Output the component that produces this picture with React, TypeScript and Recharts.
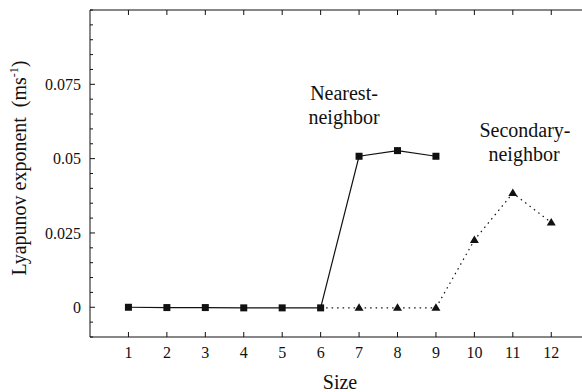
import React from 'react'
import { LineChart, Line, XAxis, YAxis, Customized } from 'recharts'

const sizes = [1, 2, 3, 4, 5, 6, 7, 8, 9, 10, 11, 12]
const nearest = [0, -0.0001, -0.0001, -0.0002, -0.0002, -0.0002, 0.0508, 0.0527, 0.0508, null, null, null]
const secondary = [null, null, null, null, null, -0.0002, -0.0002, -0.0002, -0.0002, 0.0226, 0.0384, 0.0285]

const yTicks = [
  -0.01, -0.005, 0, 0.005, 0.01, 0.015, 0.02, 0.025, 0.03, 0.035, 0.04, 0.045,
  0.05, 0.055, 0.06, 0.065, 0.07, 0.075, 0.08, 0.085, 0.09, 0.095, 0.1,
]
const yLabels: Record<string, string> = { '0': '0', '0.025': '0.025', '0.05': '0.05', '0.075': '0.075' }

const data = sizes.map((size, i) => ({ size, nearest: nearest[i], secondary: secondary[i] }))

const FONT = "'Liberation Serif'"
const INK = '#111'
const textStyle = { fontFamily: FONT }

const YTick = (props: any) => {
  const { x, y, payload } = props
  const label = yLabels[String(payload.value)]
  return (
    <g>
      <line x1={x} x2={x + (label ? 5 : 3)} y1={y} y2={y} stroke={INK} />
      {label && (
        <text x={x - 9} y={y} dy="0.35em" textAnchor="end" fontSize={16} style={textStyle} fill={INK}>
          {label}
        </text>
      )}
    </g>
  )
}

const XTick = (props: any) => {
  const { x, y, payload } = props
  return (
    <g>
      <line x1={x} x2={x} y1={y} y2={y - 5} stroke={INK} />
      <text x={x} y={y + 21} textAnchor="middle" fontSize={16} style={textStyle} fill={INK}>
        {payload.value}
      </text>
    </g>
  )
}

const TopTick = (props: any) => {
  const { x, y } = props
  return <line x1={x} x2={x} y1={y} y2={y + 5} stroke={INK} />
}

const Square = (props: any) => {
  const { cx, cy, index } = props
  if (cx == null || cy == null) return <g key={index} />
  return <rect key={index} x={cx - 3.5} y={cy - 3.5} width={7} height={7} fill={INK} />
}

const Triangle = (props: any) => {
  const { cx, cy, index, payload } = props
  if (cx == null || cy == null || payload.size === 6) return <g key={index} />
  return <path key={index} d={`M${cx},${cy - 4.5}L${cx + 4.5},${cy + 3}L${cx - 4.5},${cy + 3}Z`} fill={INK} />
}

const Texts = () => (
  <g fill={INK}>
    <text x={344} y={100} textAnchor="middle" fontSize={20} style={textStyle}>Nearest-</text>
    <text x={344} y={124} textAnchor="middle" fontSize={20} style={textStyle}>neighbor</text>
    <text x={525} y={137} textAnchor="middle" fontSize={20} style={textStyle}>Secondary-</text>
    <text x={524} y={161} textAnchor="middle" fontSize={20} style={textStyle}>neighbor</text>
    <text x={340} y={389} textAnchor="middle" fontSize={20} style={textStyle}>Size</text>
    <text transform="translate(26,168) rotate(-90)" textAnchor="middle" fontSize={20} style={textStyle}>
      Lyapunov exponent{'\u00A0'} (ms
      <tspan fontSize={12} dy={-8}>-1</tspan>
      <tspan dy={8}>)</tspan>
    </text>
  </g>
)

export default function App() {
  return (
    <div style={{ position: 'absolute', left: 0, top: 0, background: '#fff' }}>
      <LineChart width={582} height={392} data={data} margin={{ top: 9, right: 0, bottom: 0, left: 0 }}>
        <XAxis
          xAxisId="top"
          orientation="top"
          dataKey="size"
          type="number"
          domain={[0, 12.8]}
          ticks={sizes}
          interval={0}
          height={1}
          tickSize={0}
          tickMargin={0}
          tick={<TopTick />}
          stroke={INK}
          allowDataOverflow
        />
        <XAxis
          dataKey="size"
          type="number"
          domain={[0, 12.8]}
          ticks={sizes}
          interval={0}
          height={55}
          tickSize={0}
          tickMargin={0}
          tick={<XTick />}
          stroke={INK}
          allowDataOverflow
        />
        <YAxis
          type="number"
          domain={[-0.01, 0.1]}
          ticks={yTicks}
          interval={0}
          width={90}
          tickSize={0}
          tickMargin={0}
          tick={<YTick />}
          stroke={INK}
          allowDataOverflow
        />
        <Line
          dataKey="secondary"
          stroke={INK}
          strokeWidth={1.2}
          strokeDasharray="1.5 4"
          dot={<Triangle />}
          activeDot={false}
          isAnimationActive={false}
        />
        <Line
          dataKey="nearest"
          stroke={INK}
          strokeWidth={1.2}
          dot={<Square />}
          activeDot={false}
          isAnimationActive={false}
        />
        <Customized component={Texts} />
      </LineChart>
    </div>
  )
}
